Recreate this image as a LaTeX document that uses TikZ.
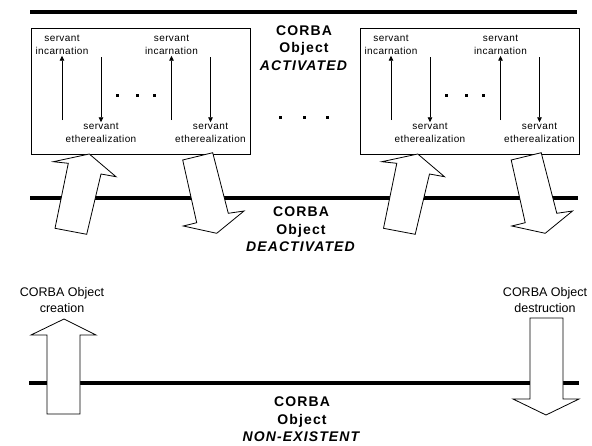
\documentclass[tikz,border=0pt]{standalone}
\usepackage{fontspec}
\setmainfont{Liberation Sans}
\usetikzlibrary{arrows.meta}

\begin{document}
\begin{tikzpicture}[
    x=1pt, y=-1pt,
    >={Triangle[length=5pt, width=4.5pt]},
    stateline/.style={line width=3.5pt},
    boxline/.style={line width=0.9pt},
    thinarrow/.style={->, line width=0.8pt},
    fatarrow/.style={draw, fill=white, line width=0.8pt, line join=miter},
    svtxt/.style={font=\fontsize{10}{12.5}\selectfont\addfontfeature{LetterSpace=4},
      align=center, inner sep=1pt},
    statetxt/.style={font=\fontsize{14}{17.5}\selectfont\bfseries\addfontfeature{LetterSpace=8},
      align=center},
    evtxt/.style={font=\fontsize{12.5}{16}\selectfont, align=center},
  ]

  % Background
  \fill[white] (0,0) rectangle (592,445);
  \useasboundingbox (0,0) rectangle (592,445);

  % === State lines ===
  \draw[stateline] (30,12) -- (577,12);
  \draw[stateline] (30,198) -- (578,198);
  \draw[stateline] (29,383) -- (579,383);

  % === State labels ===
  \node[statetxt] (active) at (304,48) {CORBA\\Object\\\textit{ACTIVATED}};
  \node[statetxt] (inactive) at (301,229.5) {CORBA\\Object\\\textit{DEACTIVATED}};
  \node[statetxt] (noobj) at (302,419.5) {CORBA\\Object\\\textit{NON-EXISTENT}};

  % dots between the two boxes
  \foreach \x in {280,304,327}
    \fill (\x-1.5,117-1.5) rectangle ++(3,3);

  % === Activation boxes ===
  \foreach \dx/\b in {0/l,329/r} {
    \begin{scope}[shift={(\dx,0)}]
      \draw[boxline] (31,28) rectangle (250,154);
      \foreach \px/\p in {0/1,109.5/2} {
        \node[svtxt] (inc\b\p) at (62+\px,45) {servant\\incarnation};
        \node[svtxt] (eth\b\p) at (101+\px,133) {servant\\etherealization};
        \coordinate (incs\b\p) at (62+\px,120);
        \coordinate (eths\b\p) at (101+\px,57);
        \draw[thinarrow] (incs\b\p) -- (inc\b\p.south);
        \draw[thinarrow] (eths\b\p) -- (eth\b\p.north);
      }
      \foreach \x in {117,137,154}
        \fill (\x-1.5,95-1.5) rectangle ++(3,3);
    \end{scope}
  }

  % === Activation / deactivation arrows ===
  \foreach \dx in {0,328.5} {
    \draw[fatarrow, shift={(\dx,0)}] (55,228.3) -- (68.3,163.3) -- (53.3,161.7)
      -- (89.3,154) -- (116,176.7) -- (101,174) -- (86.7,234.3) -- cycle;
    \draw[fatarrow, shift={(\dx,0)}] (182.7,160) -- (212.7,152.7) -- (228.3,213.3)
      -- (244,211) -- (216.7,233.3) -- (183.3,226) -- (196.7,222.7) -- cycle;
  }

  % === Creation and destruction ===
  \draw[fatarrow] (47,414) -- (47,335) -- (31,335) -- (64,319)
    -- (96,335) -- (80,335) -- (80,414) -- cycle;
  \draw[fatarrow] (530,318) -- (563,318) -- (563,399) -- (579,399)
    -- (546,415) -- (513,399) -- (530,399) -- cycle;

  \node[evtxt] (create) at (62,300) {CORBA Object\\creation};
  \node[evtxt] (destroy) at (545,300) {CORBA Object\\destruction};

\end{tikzpicture}
\end{document}
